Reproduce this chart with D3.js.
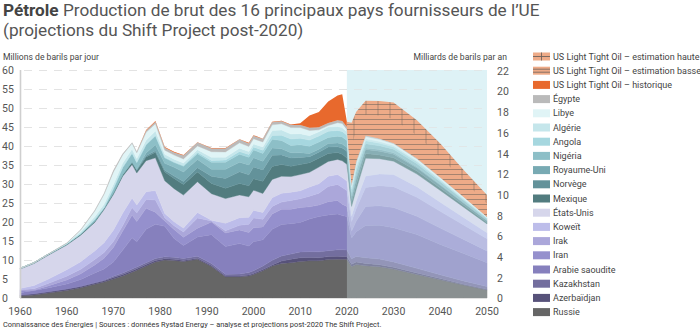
<!DOCTYPE html>
<html><head><meta charset="utf-8">
<script src="https://cdn.jsdelivr.net/npm/d3@7"></script>
<style>
html,body{margin:0;padding:0;background:#fff;}
svg{display:block;font-family:Roboto,"Noto Sans",sans-serif;}
</style></head><body>
<svg id="chart" width="700" height="329"></svg>
<script>
// ---------------- DATA (Mb/d) ----------------
const years = [1950,1953,1956,1960,1963,1966,1968,1970,1972,1974,1975,1977,1979,1981,1983,1985,1988,1991,1994,1997,1999,2000,2002,2004,2006,2008,2010,2012,2014,2016,2018,2019,2020,2021,2022,2024,2027,2030,2035,2040,2045,2050];

const russie      = [0.5,0.8,1.3,2.0,2.7,3.6,4.2,5.0,5.8,6.8,7.3,8.4,9.5,10.0,9.9,9.6,10.2,8.3,5.6,5.6,5.8,6.2,7.2,8.4,9.1,9.3,9.6,9.8,9.8,10.1,10.2,10.2,10.2,8.3,8.8,8.5,8.2,7.6,6.2,4.8,3.4,2.1];
const azerbaidjan = [0.3,0.3,0.32,0.36,0.35,0.36,0.36,0.4,0.4,0.4,0.4,0.4,0.38,0.35,0.33,0.3,0.28,0.24,0.19,0.18,0.28,0.28,0.31,0.31,0.65,0.9,1.0,0.85,0.8,0.8,0.78,0.75,0.72,0.6,0.65,0.6,0.55,0.5,0.4,0.3,0.25,0.2];
const kazakhstan  = [0.02,0.03,0.03,0.03,0.03,0.05,0.1,0.3,0.4,0.45,0.47,0.5,0.5,0.5,0.5,0.5,0.5,0.53,0.43,0.54,0.6,0.7,0.9,1.2,1.3,1.35,1.5,1.55,1.55,1.55,1.7,1.75,1.7,1.4,1.5,1.5,1.5,1.4,1.2,1.0,0.85,0.7];
const arabie      = [0.55,0.85,1.0,1.3,1.8,2.6,3.0,3.8,6.0,8.2,6.6,8.8,9.0,8.0,4.9,3.4,5.1,7.6,7.3,8.0,7.0,7.6,6.9,8.2,8.3,8.0,7.8,8.6,9.3,9.4,9.4,9.0,8.8,5.5,6.5,8.5,8.9,9.0,8.9,8.0,7.2,6.3];
const iran        = [0.66,0.05,0.54,1.07,1.5,2.1,2.8,3.8,5.0,6.0,5.35,5.5,3.2,1.4,2.4,2.2,2.3,3.3,3.6,3.6,3.55,3.7,3.4,4.0,4.0,3.8,3.9,3.2,3.0,3.5,3.6,3.0,2.65,1.8,2.8,5.0,5.1,5.3,4.8,4.3,3.7,3.1];
const irak        = [0.14,0.4,0.64,0.97,1.16,1.39,1.5,1.55,1.47,1.97,2.26,2.35,3.2,0.9,1.0,1.4,2.7,0.3,0.55,1.2,2.2,2.6,2.0,2.0,1.9,2.3,2.3,2.8,3.1,4.0,4.2,4.4,4.2,2.5,3.3,5.0,5.3,5.5,5.0,4.4,3.8,3.2];
const koweit      = [0.34,0.86,1.1,1.7,2.0,2.3,2.6,3.0,3.3,2.5,2.1,2.0,2.5,1.1,1.05,1.0,1.4,0.19,2.0,2.0,1.8,2.0,1.8,2.3,2.3,2.2,2.1,2.4,2.5,2.7,2.6,2.6,2.5,1.5,2.0,3.0,3.1,3.2,2.8,2.4,2.0,1.6];
const etatsUnis   = [5.1,5.8,6.3,6.5,7.0,7.5,8.7,9.4,9.7,8.8,8.4,8.2,8.6,8.6,8.7,8.7,8.1,7.0,6.5,6.0,5.4,5.3,5.0,4.8,4.5,4.1,4.3,3.9,4.4,3.9,4.0,4.4,4.4,2.5,3.0,4.7,4.0,3.5,3.3,3.1,2.7,2.3];
const mexique     = [0.2,0.21,0.25,0.27,0.31,0.33,0.36,0.43,0.45,0.58,0.7,0.98,1.46,2.3,2.7,2.75,2.6,2.7,2.68,3.0,2.9,3.0,3.2,3.4,3.1,2.7,2.6,2.5,2.3,2.1,1.8,1.7,1.7,1.0,1.3,1.2,1.0,0.9,0.8,0.65,0.5,0.35];
const norvege     = [0,0,0,0,0,0,0,0,0,0.1,0.19,0.28,0.4,0.5,0.6,0.8,1.1,1.9,2.6,3.1,2.9,3.1,3.0,2.95,2.5,2.2,1.9,1.6,1.6,1.7,1.5,1.7,1.75,1.0,1.4,1.1,1.0,0.95,0.8,0.7,0.55,0.45];
const royaumeUni  = [0,0,0,0,0,0,0,0,0,0,0.02,0.77,1.6,1.8,2.3,2.5,2.2,1.8,2.4,2.5,2.6,2.4,2.3,1.9,1.6,1.4,1.2,0.85,0.8,0.9,1.0,1.0,1.0,0.7,0.8,0.4,0.4,0.35,0.3,0.25,0.2,0.15];
const nigeria     = [0,0,0.01,0.02,0.08,0.42,0.14,1.08,1.8,2.25,1.78,2.1,2.3,1.43,1.25,1.5,1.45,1.85,1.9,2.1,2.0,2.1,2.0,2.3,2.2,1.9,2.1,1.9,1.9,1.6,1.8,1.9,1.85,1.0,1.3,1.1,1.0,0.95,0.85,0.7,0.55,0.4];
const angola      = [0,0,0,0,0,0.01,0.02,0.1,0.14,0.17,0.16,0.2,0.15,0.13,0.18,0.23,0.45,0.5,0.55,0.71,0.75,0.74,0.9,1.0,1.4,1.7,1.75,1.6,1.6,1.65,1.5,1.4,1.35,0.9,1.0,0.8,0.7,0.6,0.5,0.4,0.3,0.2];
const algerie     = [0,0,0.01,0.18,0.5,0.72,0.9,1.03,1.05,1.0,1.0,1.05,1.15,0.8,0.7,0.67,0.65,0.8,0.75,0.85,0.8,0.8,0.85,1.3,1.35,1.3,1.2,1.15,1.1,1.1,1.05,1.0,0.95,0.6,0.75,0.5,0.45,0.4,0.35,0.3,0.25,0.15];
const libye       = [0,0,0,0,0.45,1.5,2.6,3.3,2.2,1.5,1.48,2.06,1.9,1.1,1.1,1.05,1.0,1.48,1.4,1.45,1.3,1.4,1.3,1.5,1.65,1.7,1.6,1.4,0.5,0.4,1.0,1.15,0.6,0.3,0.45,0.6,0.55,0.45,0.4,0.35,0.3,0.15];
const egypte      = [0.05,0.05,0.05,0.06,0.1,0.13,0.18,0.33,0.22,0.15,0.24,0.42,0.52,0.6,0.7,0.9,0.86,0.87,0.9,0.86,0.8,0.78,0.75,0.7,0.67,0.68,0.66,0.7,0.7,0.68,0.65,0.65,0.62,0.5,0.55,0.3,0.25,0.2,0.17,0.14,0.12,0.05];

// US Light Tight Oil
const ltoHistorique = [0,0,0,0,0,0,0,0,0,0,0,0.2,0.25,0.2,0.2,0.15,0.1,0.1,0.1,0.1,0.15,0.15,0.1,0.1,0.1,0.1,0.5,3.2,4.0,5.6,6.5,7.0,1.4,null,null,null,null,null,null,null,null,null];
const ltoBasse      = [null,null,null,null,null,null,null,null,null,null,null,null,null,null,null,null,null,null,null,null,null,null,null,null,null,null,null,null,null,null,null,null,1.4,10.0,8.0,5.5,6.0,6.3,6.0,5.3,4.2,3.4];
const ltoHaute      = [null,null,null,null,null,null,null,null,null,null,null,null,null,null,null,null,null,null,null,null,null,null,null,null,null,null,null,null,null,null,null,null,1.4,16.0,12.9,9.1,9.85,10.65,10.0,8.86,7.0,5.7];

const countryNames  = ["Russie","Azerbaïdjan","Kazakhstan","Arabie saoudite","Iran","Irak","Koweït","États-Unis","Mexique","Norvège","Royaume-Uni","Nigéria","Angola","Algérie","Libye","Égypte"];
const countrySeries = [russie,azerbaidjan,kazakhstan,arabie,iran,irak,koweit,etatsUnis,mexique,norvege,royaumeUni,nigeria,angola,algerie,libye,egypte];
const countryColors = ["#666666","#57527a","#736e9e","#8680bd","#9590cd","#aba7da","#bdbdea","#d6d6eb","#527c7f","#63929a","#78aab3","#8dbfc7","#a6d7df","#c5e6eb","#e0f4f6","#bababa"];

const ltoLabels = ["US Light Tight Oil – estimation haute","US Light Tight Oil – estimation basse","US Light Tight Oil – historique"];
const ltoHistColor = "#e8692d";
const ltoProjColor = "#eeab88";

const leftTicks  = [0,5,10,15,20,25,30,35,40,45,50,55,60];
const rightTicks = [0,2,4,6,8,10,12,14,16,18,20,22];
const xTickYears  = [1950,1960,1970,1980,1990,2000,2010,2020,2030,2040,2050];
const xTickLabels = ["1960","1960","1970","1980","1990","2000","2010","2020","2030","2040","2050"];
const projectionStart = 2020;

// ---------------- CHART ----------------
const svg = d3.select("#chart");
const x  = d3.scaleLinear().domain([1950,2050]).range([20,487]);
const y  = d3.scaleLinear().domain([0,60]).range([298,70]);
const yR = d3.scaleLinear().domain([0,22]).range([298.5,71]);

const defs = svg.append("defs");
function hatch(id, vertical){
  const p = defs.append("pattern").attr("id",id).attr("patternUnits","userSpaceOnUse")
    .attr("width",12).attr("height",5);
  p.append("rect").attr("width",12).attr("height",5).attr("fill",ltoProjColor);
  p.append("line").attr("x1",0).attr("x2",12).attr("y1",4.5).attr("y2",4.5)
    .attr("stroke","#6e625c").attr("stroke-width",0.8).attr("stroke-opacity",0.7);
  if (vertical) p.append("line").attr("x1",6).attr("x2",6).attr("y1",0).attr("y2",5)
    .attr("stroke","#6e625c").attr("stroke-width",0.8).attr("stroke-opacity",0.6);
}
hatch("hatchHaute", true);
hatch("hatchBasse", false);

// projection background
svg.append("rect")
  .attr("x",x(projectionStart)).attr("y",y(60))
  .attr("width",x(2050)-x(projectionStart)).attr("height",y(0)-y(60))
  .attr("fill","#def3f6");

// grid
svg.append("g").selectAll("line").data(leftTicks.filter(t=>t>0)).join("line")
  .attr("x1",24).attr("x2",x(2050))
  .attr("y1",d=>y(d)+0.5).attr("y2",d=>y(d)+0.5)
  .attr("stroke","#e3e3e3").attr("stroke-width",1).attr("stroke-dasharray","8,7");

// stacked data
const rows = years.map((yr,i)=>{
  const r = {year:yr, idx:i};
  countryNames.forEach((k,j)=>{ r[k] = countrySeries[j][i]; });
  r.lto = ltoHistorique[i] == null ? 0 : ltoHistorique[i];
  return r;
});
const stacked = d3.stack().keys([...countryNames,"lto"])(rows);

const area = d3.area()
  .x(d=>x(d.data.year)).y0(d=>y(d[0])).y1(d=>y(d[1]));

svg.append("g").selectAll("path").data(stacked.slice(0,16)).join("path")
  .attr("d",area)
  .attr("fill",(d,i)=>countryColors[i])
  .attr("stroke",(d,i)=>countryColors[i]).attr("stroke-width",0.4);

// LTO historical
const ltoArea = d3.area().defined(d=>ltoHistorique[d.data.idx]!=null)
  .x(d=>x(d.data.year)).y0(d=>y(d[0])).y1(d=>y(d[1]));
svg.append("path").datum(stacked[16]).attr("d",ltoArea).attr("fill",ltoHistColor);

// wash-out overlay for projection period
svg.append("rect")
  .attr("x",x(projectionStart)).attr("y",y(60))
  .attr("width",x(2050)-x(projectionStart)).attr("height",y(0)-y(60))
  .attr("fill","#def3f6").attr("fill-opacity",0.3);

// LTO projections stacked on top of the countries
const baseTop = stacked[15].map(d=>d[1]);
const projArea = vals => d3.area()
  .defined((d,i)=>vals[i]!=null)
  .x((d,i)=>x(years[i]))
  .y0((d,i)=>y(baseTop[i]))
  .y1((d,i)=>y(baseTop[i]+(vals[i]||0)));
svg.append("path").datum(years).attr("d",projArea(ltoHaute)).attr("fill","url(#hatchHaute)");
svg.append("path").datum(years).attr("d",projArea(ltoBasse)).attr("fill","url(#hatchBasse)");

// left axis line
svg.append("line").attr("x1",20.5).attr("x2",20.5).attr("y1",y(60)).attr("y2",y(0))
  .attr("stroke","#cfcfcf").attr("stroke-width",1.6);

// tick labels
svg.append("g").selectAll("text").data(leftTicks).join("text")
  .attr("x",2).attr("y",d=>y(d)).attr("dy","0.36em")
  .attr("font-size",10.5).attr("fill","#555").text(d=>d);
svg.append("g").selectAll("text").data(rightTicks).join("text")
  .attr("x",497).attr("y",d=>yR(d)).attr("dy","0.36em")
  .attr("font-size",10.5).attr("fill","#555").text(d=>d);
svg.append("g").selectAll("text").data(xTickYears).join("text")
  .attr("x",d=>x(d)).attr("y",311).attr("dy","0.36em").attr("text-anchor","middle")
  .attr("font-size",10.5).attr("fill","#555").text((d,i)=>xTickLabels[i]);

// axis titles
svg.append("text").attr("x",3).attr("y",57).attr("dy","0.35em")
  .attr("font-size",8.6).attr("fill","#444").text("Millions de barils par jour");
svg.append("text").attr("x",507).attr("y",57).attr("dy","0.35em").attr("text-anchor","end")
  .attr("font-size",8.6).attr("fill","#444").text("Milliards de barils par an");

// title
const t1 = svg.append("text").attr("x",3).attr("y",16).attr("font-size",17.2).attr("fill","#555");
t1.append("tspan").attr("font-weight","bold").attr("fill","#444").text("Pétrole");
t1.append("tspan").text(" Production de brut des 16 principaux pays fournisseurs de l’UE");
svg.append("text").attr("x",3).attr("y",36).attr("font-size",17.2).attr("fill","#555")
  .text("(projections du Shift Project post-2020)");

// footer
svg.append("text").attr("x",3).attr("y",326).attr("dy","0.1em").attr("font-size",7.4).attr("fill","#333")
  .text("Connaissance des Énergies | Sources : données Rystad Energy – analyse et projections post-2020 The Shift Project.");

// legend
const legendLabels = [...ltoLabels, ...countryNames.slice().reverse()];
const legendColors = [null, null, ltoHistColor, ...countryColors.slice().reverse()];
const lg = svg.append("g");
legendLabels.forEach((lab,i)=>{
  const cy = 56.5 + i*14.2;
  const g = lg.append("g");
  g.append("rect").attr("x",533).attr("y",cy-4).attr("width",17).attr("height",8)
    .attr("fill", legendColors[i] || ltoProjColor);
  if (i===0){
    g.append("line").attr("x1",533).attr("x2",550).attr("y1",cy).attr("y2",cy).attr("stroke","#6e625c").attr("stroke-width",0.9);
    g.append("line").attr("x1",541.5).attr("x2",541.5).attr("y1",cy-4).attr("y2",cy+4).attr("stroke","#6e625c").attr("stroke-width",0.9);
  } else if (i===1){
    g.append("line").attr("x1",533).attr("x2",550).attr("y1",cy-1.5).attr("y2",cy-1.5).attr("stroke","#6e625c").attr("stroke-width",0.8);
    g.append("line").attr("x1",533).attr("x2",550).attr("y1",cy+1.5).attr("y2",cy+1.5).attr("stroke","#6e625c").attr("stroke-width",0.8);
  }
  g.append("text").attr("x",553).attr("y",cy).attr("dy","0.35em")
    .attr("font-size",9).attr("fill","#444").text(lab);
});
</script>
</body></html>
